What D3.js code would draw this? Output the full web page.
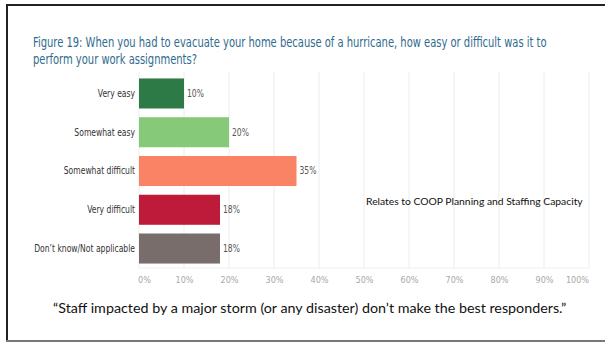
<!DOCTYPE html>
<html>
<head>
<meta charset="utf-8">
<script src="https://cdn.jsdelivr.net/npm/d3@7"></script>
<style>
  html, body { margin: 0; padding: 0; background: #fff; }
  svg { display: block; }
</style>
</head>
<body>
<svg id="chart" width="605" height="345"></svg>
<script>
// Survey responses (percent of respondents)
const categories = ["Very easy", "Somewhat easy", "Somewhat difficult", "Very difficult", "Don\u2019t know/Not applicable"];
const values = [10, 20, 35, 18, 18];
const barColors = ["#2e7a47", "#86c978", "#fa8366", "#be1a3a", "#786d6b"];
const tickValues = [0, 10, 20, 30, 40, 50, 60, 70, 80, 90, 100];
const titleLines = [
  "Figure 19: When you had to evacuate your home because of a hurricane, how easy or difficult was it to",
  "perform your work assignments?"
];
const noteText = "Relates to COOP Planning and Staffing Capacity";
const quoteText = "\u201cStaff impacted by a major storm (or any disaster) don\u2019t make the best responders.\u201d";

const svg = d3.select("#chart");
const narrow = "'DejaVu Sans Condensed', 'Liberation Sans Narrow', 'Liberation Sans', sans-serif";
const calibriLike = "Lato, 'Open Sans', 'Liberation Sans', sans-serif";

// Scale a text's font size so it spans the given width
function fitWidth(sel, width, baseSize) {
  sel.attr("font-size", baseSize);
  const w = sel.node().getComputedTextLength();
  const size = baseSize * width / w;
  sel.attr("font-size", size);
  return size;
}

// Horizontal squeeze factor that makes a text span the given width
function squeezeFor(sel, width) {
  return width / sel.node().getComputedTextLength();
}

// Slide frame
svg.append("line").attr("x1", 7).attr("x2", 605).attr("y1", 5).attr("y2", 5)
  .attr("stroke", "#222").attr("stroke-width", 2);
svg.append("line").attr("x1", 7).attr("x2", 7).attr("y1", 4).attr("y2", 342)
  .attr("stroke", "#222").attr("stroke-width", 2);
svg.append("line").attr("x1", 6).attr("x2", 605).attr("y1", 341).attr("y2", 341)
  .attr("stroke", "#777").attr("stroke-width", 2);

// Title (condensed by a horizontal scale)
const titleG = svg.append("g").attr("fill", "#2f6b8e")
  .attr("font-family", narrow).attr("font-size", 14);
const t1 = titleG.append("text").attr("y", 47).text(titleLines[0]);
const t2 = titleG.append("text").attr("y", 64).text(titleLines[1]);
const sx = squeezeFor(t1, 514);
titleG.attr("transform", `translate(33,0) scale(${sx},1)`);

// Scales
const x = d3.scaleLinear().domain([0, 100]).range([139, 589]);
const y = d3.scaleBand().domain(categories).range([74, 268]).paddingInner(0.225).paddingOuter(0.115);

// Gridlines
svg.append("g").selectAll("line").data(tickValues).join("line")
  .attr("x1", d => x(d)).attr("x2", d => x(d))
  .attr("y1", 72).attr("y2", 268)
  .attr("stroke", "#ececec").attr("stroke-width", 1);
svg.append("line").attr("x1", x(0)).attr("x2", x(100)).attr("y1", 268).attr("y2", 268)
  .attr("stroke", "#f0f0f0");

// Bars
svg.append("g").selectAll("rect").data(values).join("rect")
  .attr("x", x(0))
  .attr("y", (d, i) => y(categories[i]))
  .attr("width", d => x(d) - x(0))
  .attr("height", y.bandwidth())
  .attr("fill", (d, i) => barColors[i]);

// Value labels
svg.append("g").selectAll("text").data(values).join("text")
  .attr("x", d => x(d) + 3)
  .attr("y", (d, i) => y(categories[i]) + y.bandwidth() / 2)
  .attr("dy", "0.35em")
  .attr("fill", "#555")
  .attr("font-family", narrow)
  .attr("font-size", 10)
  .attr("transform", d => `translate(${x(d) + 3},0) scale(0.85,1) translate(${-(x(d) + 3)},0)`)
  .text(d => d + "%");

// Category axis
const yAxis = svg.append("g").attr("transform", `translate(${x(0)},0)`)
  .call(d3.axisLeft(y).tickSize(0).tickPadding(4));
yAxis.select(".domain").remove();
const catLabels = yAxis.selectAll("text")
  .attr("fill", "#333")
  .attr("font-family", narrow)
  .attr("font-size", 10.5);
const catSx = squeezeFor(catLabels.filter(d => d === categories[4]), 101);
catLabels.attr("transform", `translate(-4,0) scale(${catSx},1) translate(4,0)`);

// Percent axis
const xAxis = svg.append("g").attr("transform", "translate(0,268)")
  .call(d3.axisBottom(x).tickValues(tickValues).tickFormat(d => d + "%").tickSize(0).tickPadding(9));
xAxis.select(".domain").remove();
xAxis.selectAll("text")
  .attr("fill", "#a8a8a8")
  .attr("font-family", narrow)
  .attr("font-size", 9);
xAxis.selectAll(".tick").filter(d => d === 0).select("text").attr("dx", 5);
xAxis.selectAll(".tick").filter(d => d === 100).select("text").attr("dx", -12);

// Side note
const note = svg.append("text")
  .attr("x", 366).attr("y", 205)
  .attr("fill", "#111")
  .attr("font-family", calibriLike)
  .text(noteText);
fitWidth(note, 217, 11);

// Quote
const quote = svg.append("text")
  .attr("x", 53).attr("y", 313)
  .attr("fill", "#111")
  .attr("font-family", calibriLike)
  .text(quoteText);
fitWidth(quote, 514, 15);
</script>
</body>
</html>
